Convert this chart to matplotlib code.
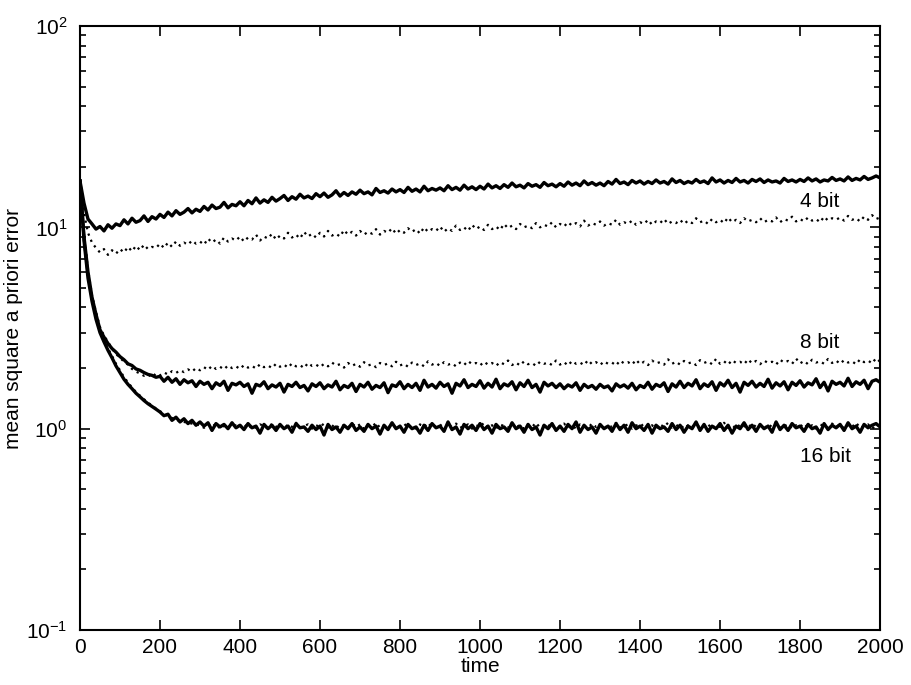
import numpy as np
import matplotlib
matplotlib.use("Agg")
import matplotlib.pyplot as plt
from matplotlib.ticker import LogLocator, FixedLocator

plt.rcParams['font.family'] = ['Liberation Sans', 'DejaVu Sans']
plt.rcParams['mathtext.default'] = 'regular'

# time samples (every 10 steps from 0 to 2000)
time = np.arange(0, 2001, 10)

bit4_solid = [
    17.0, 13.2, 11.0, 10.4, 9.8, 10.1, 9.6, 10.3, 9.9, 10.4,
    10.2, 10.9, 10.4, 11.1, 10.6, 10.8, 11.4, 10.7, 11.3, 11.0,
    11.6, 11.2, 11.9, 11.4, 12.1, 11.6, 11.9, 12.4, 11.8, 12.3,
    12.0, 12.7, 12.2, 12.9, 12.4, 12.6, 13.3, 12.5, 13.0, 12.8,
    13.4, 12.8, 13.6, 13.1, 14.0, 13.2, 13.7, 13.3, 14.1, 13.5,
    13.9, 14.4, 13.6, 14.2, 13.8, 14.6, 14.0, 14.3, 13.9, 14.7,
    14.2, 14.8, 14.1, 14.5, 15.2, 14.3, 14.9, 14.4, 15.0, 14.6,
    15.3, 14.7, 15.0, 14.5, 15.6, 14.9, 15.2, 14.8, 15.5, 15.0,
    15.4, 14.9, 15.8, 15.1, 15.5, 15.0, 16.0, 15.2, 15.6, 15.3,
    15.7, 15.2, 16.1, 15.4, 15.8, 15.3, 16.2, 15.5, 15.9, 15.4,
    16.0, 15.5, 16.4, 15.7, 16.1, 15.6, 16.3, 15.8, 16.6, 15.9,
    16.2, 15.7, 16.5, 16.0, 16.3, 15.8, 16.7, 16.1, 16.4, 15.9,
    16.5, 16.0, 16.8, 16.2, 16.6, 16.1, 17.0, 16.3, 16.7, 16.2,
    16.6, 16.1, 16.9, 16.4, 17.3, 16.5, 16.8, 16.3, 17.1, 16.6,
    17.0, 16.4, 16.9, 16.5, 17.2, 16.6, 16.9, 16.4, 17.4, 16.7,
    17.1, 16.5, 16.9, 16.6, 17.3, 16.7, 17.0, 16.5, 17.6, 16.8,
    17.2, 16.6, 17.1, 16.7, 17.5, 16.8, 17.1, 16.6, 17.3, 16.9,
    17.4, 16.7, 17.2, 16.8, 17.0, 16.6, 17.5, 16.9, 17.2, 16.8,
    17.3, 16.9, 17.6, 17.0, 17.4, 16.8, 17.2, 17.0, 17.7, 17.1,
    17.4, 17.0, 17.8, 17.1, 17.5, 17.2, 17.9, 17.3, 17.6, 18.0,
    17.6,
]

bit4_dotted = [
    17.0, 11.8, 9.4, 8.4, 7.9, 7.5, 7.8, 7.3, 7.7, 7.4,
    7.8, 7.5, 8.0, 7.6, 8.1, 7.7, 8.2, 7.8, 8.0, 7.9,
    8.3, 7.9, 8.4, 8.0, 8.5, 8.1, 8.4, 8.2, 8.6, 8.3,
    8.5, 8.2, 8.8, 8.4, 8.7, 8.3, 8.9, 8.5, 8.8, 8.6,
    9.0, 8.5, 8.9, 8.7, 9.2, 8.6, 9.0, 8.8, 9.3, 8.7,
    9.1, 8.8, 9.4, 8.9, 9.2, 8.8, 9.5, 9.0, 9.3, 8.9,
    9.4, 9.0, 9.6, 9.1, 9.3, 9.0, 9.7, 9.2, 9.5, 9.1,
    9.6, 9.2, 9.5, 9.3, 9.8, 9.2, 9.6, 9.4, 9.9, 9.3,
    9.7, 9.4, 9.9, 9.5, 9.8, 9.3, 10.0, 9.5, 9.8, 9.6,
    10.1, 9.5, 9.9, 9.6, 10.2, 9.7, 10.0, 9.6, 10.3, 9.8,
    10.1, 9.7, 10.3, 9.8, 10.1, 9.7, 10.4, 9.9, 10.2, 9.8,
    10.4, 10.0, 10.2, 9.9, 10.5, 10.0, 10.3, 10.1, 10.6, 10.0,
    10.4, 10.1, 10.6, 10.2, 10.5, 10.1, 10.8, 10.2, 10.5, 10.3,
    10.7, 10.2, 10.5, 10.3, 10.9, 10.3, 10.6, 10.4, 10.8, 10.3,
    10.6, 10.4, 10.9, 10.3, 10.7, 10.5, 11.0, 10.4, 10.7, 10.5,
    10.9, 10.4, 10.8, 10.5, 11.1, 10.6, 10.8, 10.4, 11.0, 10.6,
    10.9, 10.5, 11.2, 10.6, 10.9, 10.5, 11.1, 10.7, 10.9, 10.6,
    11.1, 10.6, 10.9, 10.7, 11.2, 10.6, 11.0, 10.8, 11.3, 10.7,
    11.0, 10.7, 11.2, 10.8, 11.0, 10.6, 11.3, 10.8, 11.1, 10.9,
    11.2, 10.8, 11.4, 10.9, 11.1, 10.7, 11.3, 10.9, 11.5, 11.0,
    11.2,
]

bit8_solid = [
    17.0, 9.0, 6.0, 4.5, 3.7, 3.1, 2.85, 2.65, 2.5, 2.4,
    2.28, 2.2, 2.1, 2.06, 1.98, 1.95, 1.9, 1.86, 1.84, 1.8,
    1.82, 1.72, 1.80, 1.70, 1.77, 1.66, 1.75, 1.69, 1.73, 1.62,
    1.72, 1.66, 1.70, 1.58, 1.69, 1.64, 1.72, 1.55, 1.68, 1.65,
    1.70, 1.62, 1.67, 1.50, 1.66, 1.63, 1.71, 1.58, 1.65, 1.61,
    1.68, 1.52, 1.66, 1.62, 1.70, 1.60, 1.64, 1.54, 1.67, 1.62,
    1.69, 1.58, 1.65, 1.61, 1.72, 1.56, 1.64, 1.60, 1.68, 1.53,
    1.66, 1.61, 1.70, 1.57, 1.64, 1.60, 1.69, 1.51, 1.65, 1.62,
    1.71, 1.58, 1.66, 1.60, 1.68, 1.55, 1.74, 1.61, 1.66, 1.59,
    1.70, 1.62, 1.67, 1.50, 1.68, 1.63, 1.75, 1.60, 1.66, 1.62,
    1.73, 1.59, 1.68, 1.61, 1.76, 1.58, 1.67, 1.63, 1.71, 1.56,
    1.69, 1.62, 1.74, 1.60, 1.66, 1.52, 1.70, 1.63, 1.68, 1.60,
    1.67, 1.58, 1.65, 1.61, 1.69, 1.55, 1.66, 1.60, 1.64, 1.57,
    1.66, 1.60, 1.63, 1.54, 1.67, 1.61, 1.65, 1.59, 1.68, 1.56,
    1.64, 1.60, 1.70, 1.57, 1.66, 1.62, 1.69, 1.53, 1.67, 1.61,
    1.72, 1.60, 1.68, 1.63, 1.75, 1.58, 1.67, 1.62, 1.71, 1.55,
    1.69, 1.63, 1.74, 1.60, 1.68, 1.52, 1.70, 1.64, 1.72, 1.61,
    1.68, 1.62, 1.76, 1.59, 1.69, 1.63, 1.71, 1.56, 1.70, 1.64,
    1.73, 1.61, 1.69, 1.65, 1.77, 1.60, 1.70, 1.54, 1.72, 1.66,
    1.70, 1.63, 1.78, 1.62, 1.71, 1.66, 1.74, 1.58, 1.72, 1.75,
    1.70,
]

bit8_dotted = [
    17.0, 9.2, 6.2, 4.6, 3.8, 3.2, 2.9, 2.7, 2.5, 2.35,
    2.25, 2.15, 2.08, 1.98, 1.92, 1.88, 1.83, 1.86, 1.80, 1.88,
    1.84, 1.90, 1.86, 1.93, 1.89, 1.95, 1.91, 1.97, 1.92, 2.00,
    1.95, 2.02, 1.96, 2.05, 1.98, 2.03, 1.97, 2.06, 2.00, 2.04,
    1.98, 2.07, 2.01, 2.05, 1.99, 2.09, 2.02, 2.06, 2.00, 2.10,
    2.03, 2.08, 2.01, 2.11, 2.04, 2.07, 2.00, 2.12, 2.05, 2.08,
    2.02, 2.10, 2.04, 2.13, 2.06, 2.09, 2.01, 2.12, 2.05, 2.10,
    2.03, 2.14, 2.06, 2.09, 2.02, 2.12, 2.07, 2.11, 2.04, 2.15,
    2.06, 2.10, 2.03, 2.13, 2.07, 2.11, 2.04, 2.16, 2.08, 2.12,
    2.05, 2.14, 2.08, 2.11, 2.04, 2.13, 2.07, 2.17, 2.09, 2.12,
    2.06, 2.15, 2.08, 2.12, 2.05, 2.14, 2.09, 2.18, 2.07, 2.13,
    2.06, 2.16, 2.09, 2.12, 2.05, 2.15, 2.10, 2.13, 2.07, 2.18,
    2.08, 2.14, 2.06, 2.17, 2.10, 2.13, 2.07, 2.19, 2.09, 2.14,
    2.07, 2.16, 2.10, 2.13, 2.06, 2.18, 2.11, 2.14, 2.08, 2.20,
    2.09, 2.15, 2.07, 2.18, 2.11, 2.14, 2.08, 2.21, 2.10, 2.15,
    2.08, 2.17, 2.11, 2.14, 2.07, 2.19, 2.12, 2.16, 2.09, 2.22,
    2.10, 2.16, 2.08, 2.19, 2.12, 2.15, 2.09, 2.21, 2.11, 2.17,
    2.09, 2.18, 2.12, 2.15, 2.08, 2.20, 2.13, 2.17, 2.10, 2.23,
    2.11, 2.17, 2.09, 2.20, 2.13, 2.16, 2.10, 2.22, 2.12, 2.18,
    2.10, 2.19, 2.13, 2.16, 2.09, 2.21, 2.14, 2.18, 2.11, 2.24,
    2.15,
]

bit16_solid = [
    17.0, 8.6, 5.6, 4.3, 3.5, 3.0, 2.7, 2.45, 2.25, 2.05,
    1.90, 1.76, 1.66, 1.58, 1.50, 1.44, 1.38, 1.33, 1.29, 1.25,
    1.21, 1.16, 1.18, 1.10, 1.14, 1.08, 1.12, 1.06, 1.10, 1.04,
    1.08, 1.03, 1.07, 0.98, 1.06, 1.02, 1.05, 1.00, 1.07, 1.01,
    1.04, 0.99, 1.06, 1.01, 1.03, 0.95, 1.05, 1.00, 1.04, 0.98,
    1.05, 1.00, 1.03, 0.96, 1.06, 1.01, 1.02, 0.97, 1.04, 0.99,
    1.03, 0.93, 1.05, 0.99, 1.02, 0.96, 1.04, 1.00, 1.06, 0.98,
    1.02, 0.97, 1.05, 1.00, 1.03, 0.94, 1.04, 0.99, 1.07, 1.00,
    1.03, 0.96, 1.05, 1.00, 1.02, 0.95, 1.04, 0.98, 1.06, 1.01,
    1.03, 0.97, 1.08, 0.99, 1.02, 0.94, 1.05, 1.00, 1.04, 0.98,
    1.06, 0.99, 1.03, 0.95, 1.05, 1.00, 1.02, 0.97, 1.07, 1.00,
    1.03, 0.96, 1.05, 0.99, 1.02, 0.93, 1.04, 1.00, 1.06, 0.98,
    1.03, 0.97, 1.05, 1.00, 1.08, 0.96, 1.04, 0.99, 1.02, 0.95,
    1.05, 1.00, 1.03, 0.97, 1.06, 0.99, 1.04, 0.96, 1.07, 1.00,
    1.03, 0.98, 1.05, 0.95, 1.04, 1.00, 1.02, 0.97, 1.06, 0.99,
    1.04, 0.96, 1.03, 1.00, 1.08, 0.98, 1.05, 0.97, 1.03, 1.00,
    1.06, 0.98, 1.04, 0.95, 1.03, 1.00, 1.07, 0.99, 1.04, 0.97,
    1.05, 1.00, 1.03, 0.96, 1.08, 0.99, 1.04, 0.98, 1.06, 1.01,
    1.03, 0.97, 1.05, 1.00, 1.02, 0.95, 1.06, 0.99, 1.04, 1.01,
    1.05, 0.98, 1.07, 1.00, 1.03, 0.96, 1.05, 1.01, 1.04, 1.06,
    1.02,
]

bit16_dotted = [
    17.0, 8.8, 5.8, 4.4, 3.6, 3.05, 2.75, 2.5, 2.3, 2.1,
    1.95, 1.80, 1.70, 1.60, 1.52, 1.46, 1.40, 1.35, 1.30, 1.26,
    1.22, 1.19, 1.15, 1.13, 1.11, 1.09, 1.08, 1.07, 1.06, 1.05,
    1.04, 1.01, 1.05, 1.02, 1.06, 1.00, 1.03, 1.05, 1.01, 1.04,
    1.02, 1.06, 1.00, 1.04, 1.01, 1.05, 1.03, 1.00, 1.06, 1.02,
    1.04, 1.00, 1.05, 1.02, 1.07, 1.01, 1.03, 1.05, 1.00, 1.04,
    1.02, 1.06, 1.01, 1.04, 1.00, 1.05, 1.03, 1.01, 1.06, 1.02,
    1.05, 1.00, 1.04, 1.02, 1.07, 1.01, 1.03, 1.05, 1.00, 1.04,
    1.02, 1.06, 1.01, 1.04, 1.00, 1.05, 1.02, 1.07, 1.01, 1.03,
    1.05, 1.00, 1.04, 1.02, 1.06, 1.01, 1.03, 1.05, 1.00, 1.04,
    1.02, 1.07, 1.01, 1.04, 1.00, 1.05, 1.03, 1.01, 1.06, 1.02,
    1.04, 1.00, 1.05, 1.02, 1.07, 1.01, 1.03, 1.05, 1.00, 1.04,
    1.02, 1.06, 1.01, 1.04, 1.00, 1.05, 1.03, 1.01, 1.06, 1.02,
    1.05, 1.00, 1.04, 1.02, 1.07, 1.01, 1.03, 1.05, 1.00, 1.04,
    1.02, 1.06, 1.01, 1.04, 1.00, 1.05, 1.02, 1.07, 1.01, 1.03,
    1.05, 1.00, 1.04, 1.02, 1.06, 1.01, 1.03, 1.05, 1.00, 1.04,
    1.02, 1.07, 1.01, 1.04, 1.00, 1.05, 1.03, 1.01, 1.06, 1.02,
    1.04, 1.00, 1.05, 1.02, 1.07, 1.01, 1.03, 1.05, 1.00, 1.04,
    1.02, 1.06, 1.01, 1.04, 1.00, 1.05, 1.03, 1.01, 1.06, 1.02,
    1.05, 1.00, 1.04, 1.02, 1.07, 1.01, 1.03, 1.05, 1.00, 1.04,
    1.03,
]

labels = ["4 bit", "8 bit", "16 bit"]
label_pos = [(1800, 13.5), (1800, 2.68), (1800, 0.73)]

fig = plt.figure(figsize=(9.12, 6.85), dpi=100)
ax = fig.add_axes([0.0877, 0.0803, 0.8773, 0.8817])

for d in (bit4_dotted, bit8_dotted, bit16_dotted):
    ax.plot(time, d, color='black', linestyle=(0, (1, 2)), linewidth=1.6)
for s in (bit4_solid, bit8_solid, bit16_solid):
    ax.plot(time, s, color='black', linestyle='-', linewidth=2.4)

ax.set_yscale('log')
ax.set_xlim(0, 2000)
ax.set_ylim(0.1, 100)
ax.set_xticks(np.arange(0, 2001, 200))
ax.yaxis.set_major_locator(FixedLocator([0.1, 1, 10, 100]))
ax.yaxis.set_minor_locator(LogLocator(base=10, subs=np.arange(2, 10), numticks=20))

ax.tick_params(axis='both', which='both', direction='in', top=True, right=True,
               labelsize=15, width=1.2)
ax.tick_params(axis='x', which='major', pad=6)
ax.tick_params(axis='y', which='major', pad=9)
ax.tick_params(axis='both', which='major', length=7)
ax.tick_params(axis='both', which='minor', length=4)
for sp in ax.spines.values():
    sp.set_linewidth(1.5)

ax.set_xlabel('time', fontsize=15, labelpad=0)
ax.set_ylabel('mean square a priori error', fontsize=15)
ax.yaxis.set_label_coords(-0.071, 0.5)

for lab, (tx, ty) in zip(labels, label_pos):
    ax.text(tx, ty, lab, fontsize=15, ha='left', va='center')

fig.savefig('out.png', dpi=100)
